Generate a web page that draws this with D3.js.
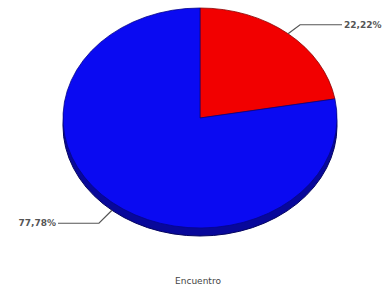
<!DOCTYPE html>
<html>
<head>
<meta charset="utf-8">
<script src="https://cdn.jsdelivr.net/npm/d3@7"></script>
<style>
  body { margin: 0; background: #fff; }
  svg { display: block; }
</style>
</head>
<body>
<svg id="chart" width="390" height="294"></svg>
<script>
// data
const categories = ["A", "B"];
const values = [22.22, 77.78];
const labels = ["22,22%", "77,78%"];
const colors = ["#f20000", "#0a0af2"];
const title = "Encuentro";

const width = 390, height = 294;
const cx = 200, cy = 118;
const rx = 137, ry = 110;
const depth = 8;

const svg = d3.select("#chart");

const pie = d3.pie().sort(null).value(d => d)(values);
const arc = d3.arc().innerRadius(0).outerRadius(rx);

// bottom (side of the disc)
svg.append("ellipse")
  .attr("cx", cx).attr("cy", cy + depth)
  .attr("rx", rx).attr("ry", ry)
  .attr("fill", "#08089a")
  .attr("stroke", "#050560").attr("stroke-width", 1);

const topFace = svg.append("g")
  .attr("transform", `translate(${cx},${cy}) scale(1,${ry / rx})`);

topFace.selectAll("path.slice")
  .data(pie)
  .enter()
  .append("path")
  .attr("class", "slice")
  .attr("d", arc)
  .attr("fill", (d, i) => colors[i])
  .attr("stroke", (d, i) => i === 0 ? "#8a0000" : "#05058a")
  .attr("stroke-width", 0.8)
  .attr("vector-effect", "non-scaling-stroke");

// leader lines and labels
const point = (a, r, dy) => [cx + Math.sin(a) * rx * r, cy - Math.cos(a) * ry * r + dy];

pie.forEach((d, i) => {
  const mid = (d.startAngle + d.endAngle) / 2;
  const right = Math.sin(mid) > 0;
  const dy = Math.cos(mid) < 0 ? depth : 0;
  const p0 = point(mid, 1, dy);
  const p1 = [p0[0] + (right ? 12 : -13), p0[1] + (right ? -9 : 13)];
  const p2 = [right ? 342 : 58, p1[1]];

  svg.append("path")
    .attr("d", d3.line()([p0, p1, p2]))
    .attr("fill", "none")
    .attr("stroke", "#555")
    .attr("stroke-width", 1.2);

  svg.append("text")
    .attr("x", right ? p2[0] + 2 : p2[0] - 2)
    .attr("y", p2[1] + 3)
    .attr("text-anchor", right ? "start" : "end")
    .attr("font-family", "DejaVu Sans")
    .attr("font-size", 9)
    .attr("font-weight", "bold")
    .attr("fill", "#555")
    .text(labels[i]);
});

svg.append("text")
  .attr("x", 198)
  .attr("y", 284)
  .attr("text-anchor", "middle")
  .attr("font-family", "DejaVu Sans")
  .attr("font-size", 9)
  .attr("fill", "#444")
  .text(title);
</script>
</body>
</html>
